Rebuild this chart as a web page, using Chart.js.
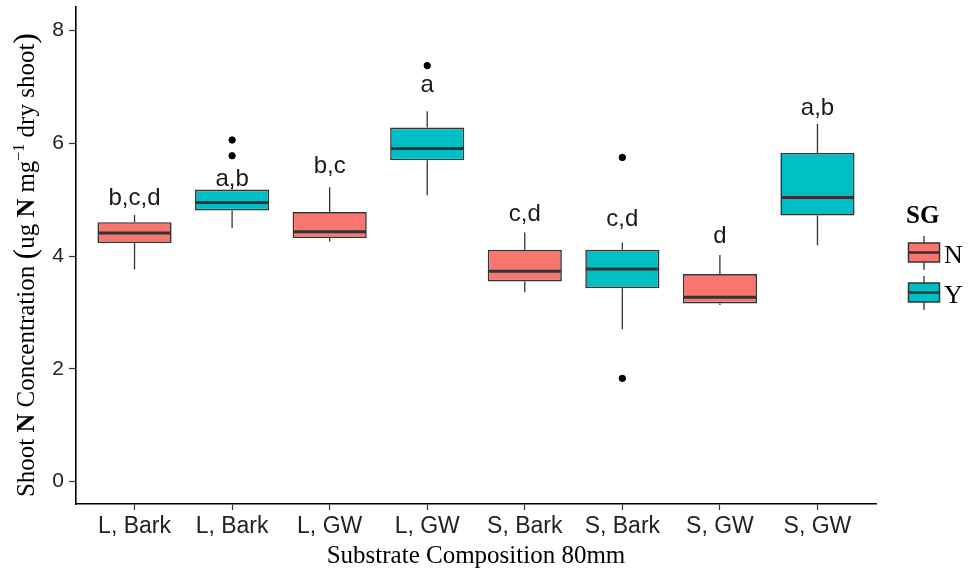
<!DOCTYPE html>
<html>
<head>
<meta charset="utf-8">
<script src="https://cdn.jsdelivr.net/npm/chart.js@4.4.1/dist/chart.umd.min.js"></script>
<style>
    html, body { margin: 0; padding: 0; background: #fff; }
    #contenedor { width: 973px; height: 573px; }
</style>
</head>
<body>
<div id="contenedor"><canvas id="myChart"></canvas></div>
<script>
// datos
const categorias = ['L, Bark', 'L, Bark', 'L, GW', 'L, GW', 'S, Bark', 'S, Bark', 'S, GW', 'S, GW'];
const grupoSG = ['N', 'Y', 'N', 'Y', 'N', 'Y', 'N', 'Y'];
const bigoteInf = [3.76, 4.50, 4.26, 5.08, 3.36, 2.70, 3.13, 4.19];
const cuartil1 = [4.23, 4.81, 4.32, 5.70, 3.55, 3.43, 3.16, 4.72];
const mediana = [4.41, 4.95, 4.43, 5.91, 3.73, 3.77, 3.27, 5.04];
const cuartil3 = [4.60, 5.18, 4.78, 6.28, 4.11, 4.11, 3.68, 5.83];
const bigoteSup = [4.73, 5.22, 5.22, 6.57, 4.42, 4.24, 4.02, 6.35];
const atipicosX = [1, 1, 3, 5, 5];
const atipicosY = [6.06, 5.78, 7.38, 5.75, 1.83];
const letras = ['b,c,d', 'a,b', 'b,c', 'a', 'c,d', 'c,d', 'd', 'a,b'];
const letrasY = [4.91, 5.24, 5.47, 6.92, 4.62, 4.54, 4.23, 6.51];
const ticksY = [0, 2, 4, 6, 8];
const nivelesSG = ['N', 'Y'];

const coloresSG = { N: '#F8766D', Y: '#00BFC4' };
const lineaCaja = '#333333';
const serif = '"Liberation Serif", "Times New Roman", serif';
const sans = '"Liberation Sans", Arial, sans-serif';

function datosCajas(sg) {
    const datos = [];
    categorias.forEach((c, i) => {
        if (grupoSG[i] === sg) datos.push({ x: i, y: [cuartil1[i], cuartil3[i]] });
    });
    return datos;
}

// bigotes, medianas, letras, leyenda y titulo del eje y
const pluginCajas = {
    id: 'pluginCajas',
    beforeDatasetsDraw(chart) {
        const ctx = chart.ctx;
        const xs = chart.scales.x;
        const ys = chart.scales.y;
        ctx.save();
        ctx.strokeStyle = lineaCaja;
        ctx.lineWidth = 1.3;
        categorias.forEach((c, i) => {
            const px = xs.getPixelForValue(i);
            ctx.beginPath();
            ctx.moveTo(px, ys.getPixelForValue(cuartil3[i]));
            ctx.lineTo(px, ys.getPixelForValue(bigoteSup[i]));
            ctx.moveTo(px, ys.getPixelForValue(cuartil1[i]));
            ctx.lineTo(px, ys.getPixelForValue(bigoteInf[i]));
            ctx.stroke();
        });
        ctx.restore();
    },
    afterDatasetsDraw(chart) {
        const ctx = chart.ctx;
        const ys = chart.scales.y;
        ctx.save();
        ctx.strokeStyle = lineaCaja;
        ctx.lineWidth = 3;
        [0, 1].forEach(d => {
            const meta = chart.getDatasetMeta(d);
            meta.data.forEach((barra, j) => {
                const i = chart.data.datasets[d].data[j].x;
                const py = ys.getPixelForValue(mediana[i]);
                ctx.beginPath();
                ctx.moveTo(barra.x - barra.width / 2 + 1, py);
                ctx.lineTo(barra.x + barra.width / 2 - 1, py);
                ctx.stroke();
            });
        });
        ctx.restore();
    },
    afterDraw(chart) {
        const ctx = chart.ctx;
        const xs = chart.scales.x;
        const ys = chart.scales.y;
        ctx.save();

        // letras de significancia
        ctx.fillStyle = '#1a1a1a';
        ctx.font = '24px ' + sans;
        ctx.textAlign = 'center';
        ctx.textBaseline = 'alphabetic';
        letras.forEach((l, i) => {
            ctx.fillText(l, xs.getPixelForValue(i), ys.getPixelForValue(letrasY[i]));
        });

        // leyenda SG
        ctx.fillStyle = '#000';
        ctx.textAlign = 'left';
        ctx.font = 'bold 25px ' + serif;
        ctx.fillText('SG', 906, 223);
        nivelesSG.forEach((sg, k) => {
            const top = 243 + k * 40;
            const cx = 924;
            ctx.strokeStyle = lineaCaja;
            ctx.lineWidth = 1.3;
            ctx.beginPath();
            ctx.moveTo(cx, top - 7);
            ctx.lineTo(cx, top);
            ctx.moveTo(cx, top + 19);
            ctx.lineTo(cx, top + 27);
            ctx.stroke();
            ctx.fillStyle = coloresSG[sg];
            ctx.fillRect(908.5, top, 31, 19);
            ctx.lineWidth = 1.5;
            ctx.strokeRect(908.5, top, 31, 19);
            ctx.lineWidth = 2.5;
            ctx.beginPath();
            ctx.moveTo(909, top + 9.5);
            ctx.lineTo(939, top + 9.5);
            ctx.stroke();
            ctx.fillStyle = '#000';
            ctx.font = '26px ' + serif;
            ctx.fillText(sg, 944, top + 20);
        });

        // titulo del eje y con N en negrita y superindice
        const partes = [
            { t: 'Shoot ', f: '25px ' + serif, dy: 0 },
            { t: 'N', f: 'bold 26px ' + serif, dy: 0 },
            { t: ' Concentration ', f: '25px ' + serif, dy: 0 },
            { t: '(', f: '32px ' + serif, dy: 1 },
            { t: 'ug ', f: '25px ' + serif, dy: 0 },
            { t: 'N', f: 'bold 26px ' + serif, dy: 0 },
            { t: ' mg', f: '25px ' + serif, dy: 0 },
            { t: '\u22121', f: '16px ' + serif, dy: -10 },
            { t: ' dry shoot', f: '25px ' + serif, dy: 0 },
            { t: ')', f: '32px ' + serif, dy: 1 }
        ];
        let total = 0;
        partes.forEach(p => { ctx.font = p.f; p.w = ctx.measureText(p.t).width; total += p.w; });
        ctx.translate(34, 265);
        ctx.rotate(-Math.PI / 2);
        ctx.fillStyle = '#000';
        let x = -total / 2;
        partes.forEach(p => {
            ctx.font = p.f;
            ctx.fillText(p.t, x, p.dy);
            x += p.w;
        });
        ctx.restore();
    }
};

const ctx = document.getElementById('myChart');

const grafica = new Chart(ctx, {
    type: 'bar',
    data: {
        datasets: [
            {
                label: 'N',
                data: datosCajas('N'),
                backgroundColor: coloresSG.N,
                borderColor: lineaCaja,
                borderWidth: 1.6,
                borderSkipped: false,
                categoryPercentage: 1,
                barPercentage: 0.76,
                order: 2
            },
            {
                label: 'Y',
                data: datosCajas('Y'),
                backgroundColor: coloresSG.Y,
                borderColor: lineaCaja,
                borderWidth: 1.6,
                borderSkipped: false,
                categoryPercentage: 1,
                barPercentage: 0.76,
                order: 2
            },
            {
                type: 'scatter',
                label: 'atipicos',
                data: atipicosX.map((x, i) => ({ x: x, y: atipicosY[i] })),
                backgroundColor: '#000',
                borderColor: '#000',
                pointRadius: 3.2,
                order: 0
            }
        ]
    },
    options: {
        responsive: true,
        maintainAspectRatio: false,
        animation: false,
        layout: { padding: { top: 7, right: 97, bottom: 2, left: 0 } },
        plugins: {
            legend: { display: false },
            tooltip: { enabled: false }
        },
        scales: {
            x: {
                type: 'linear',
                min: -0.6,
                max: 7.6,
                offset: false,
                stacked: true,
                afterBuildTicks: (escala) => { escala.ticks = categorias.map((c, i) => ({ value: i })); },
                afterFit: (escala) => { escala.height = 67; escala.paddingLeft = 0; escala.paddingRight = 0; },
                grid: { display: true, drawOnChartArea: false, offset: false, color: '#333', tickLength: 6, tickWidth: 1.2 },
                border: { display: true, color: '#000', width: 1.6 },
                ticks: {
                    autoSkip: false,
                    maxRotation: 0,
                    padding: 3,
                    color: '#222',
                    font: { family: sans, size: 23 },
                    callback: (v) => categorias[v]
                },
                title: {
                    display: true,
                    text: 'Substrate Composition 80mm',
                    color: '#000',
                    padding: 0,
                    font: { family: serif, size: 25 }
                }
            },
            y: {
                min: -0.4,
                max: 8.42,
                afterBuildTicks: (escala) => { escala.ticks = ticksY.map(v => ({ value: v })); },
                afterFit: (escala) => { escala.width = 76; escala.paddingTop = 0; escala.paddingBottom = 0; },
                grid: { display: true, drawOnChartArea: false, color: '#333', tickLength: 7, tickWidth: 1.2 },
                border: { display: true, color: '#000', width: 1.6 },
                ticks: {
                    padding: 5,
                    color: '#222',
                    font: { family: sans, size: 21 }
                }
            }
        }
    },
    plugins: [pluginCajas]
});
</script>
</body>
</html>
